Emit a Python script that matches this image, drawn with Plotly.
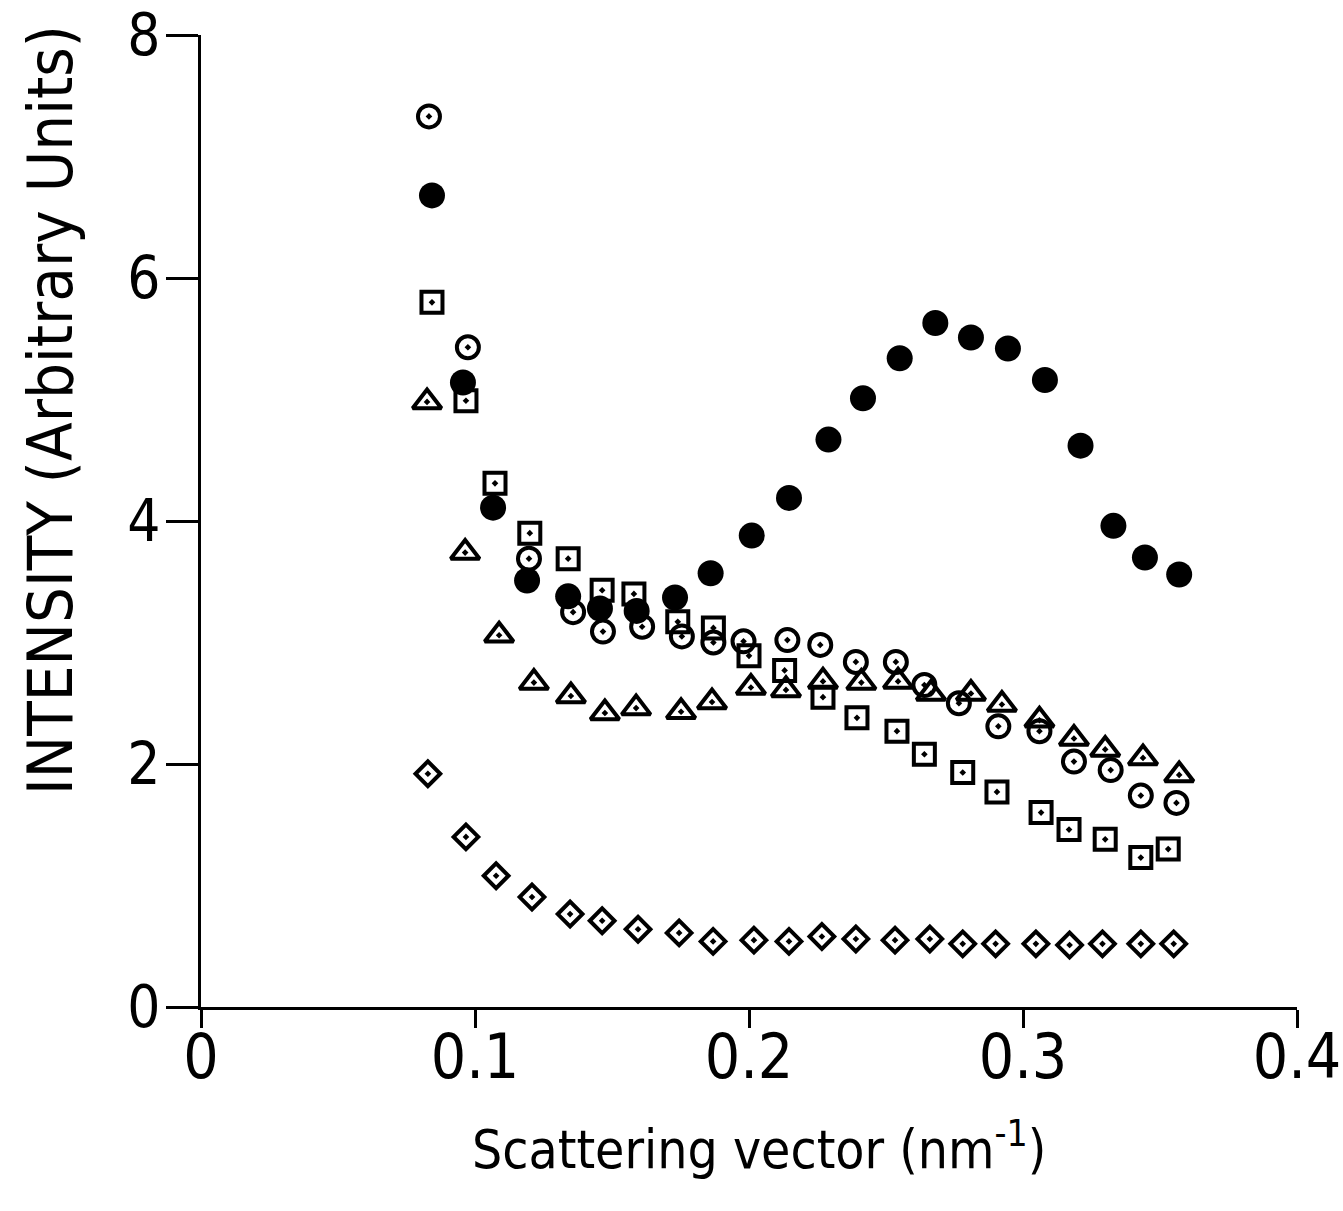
import plotly.graph_objects as go

# Filled circles
x_fill = [0.0843, 0.0956, 0.1066, 0.1190, 0.1340, 0.1456, 0.1590, 0.1730, 0.1860, 0.2010, 0.2146,
          0.2290, 0.2416, 0.2550, 0.2680, 0.2810, 0.2945, 0.3080, 0.3210, 0.3330, 0.3445, 0.3570]
y_fill = [6.68, 5.14, 4.11, 3.51, 3.38, 3.28, 3.26, 3.37, 3.57, 3.88, 4.19,
          4.67, 5.01, 5.34, 5.63, 5.51, 5.42, 5.16, 4.62, 3.96, 3.70, 3.56]

# Open circles with centre dot
x_circ = [0.0832, 0.0974, 0.1197, 0.1358, 0.1467, 0.1610, 0.1755, 0.1870, 0.1980, 0.2140, 0.2260,
          0.2390, 0.2536, 0.2640, 0.2766, 0.2910, 0.3060, 0.3186, 0.3320, 0.3430, 0.3560]
y_circ = [7.33, 5.43, 3.69, 3.25, 3.09, 3.13, 3.05, 3.00, 3.01, 3.02, 2.98,
          2.84, 2.84, 2.65, 2.50, 2.31, 2.27, 2.02, 1.95, 1.74, 1.68]

# Triangles with centre dot
x_tri = [0.0825, 0.0964, 0.1088, 0.1215, 0.1350, 0.1474, 0.1588, 0.1752, 0.1865, 0.2007, 0.2135,
         0.2270, 0.2410, 0.2544, 0.2664, 0.2810, 0.2923, 0.3060, 0.3186, 0.3300, 0.3438, 0.3570]
y_tri = [4.98, 3.74, 3.06, 2.67, 2.56, 2.42, 2.46, 2.43, 2.51, 2.63, 2.61,
         2.68, 2.67, 2.68, 2.58, 2.58, 2.49, 2.36, 2.21, 2.12, 2.05, 1.91]

# Squares with centre dot
x_sq = [0.0843, 0.0967, 0.1073, 0.1200, 0.1340, 0.1464, 0.1580, 0.1740, 0.1870, 0.2000, 0.2130,
        0.2270, 0.2394, 0.2540, 0.2640, 0.2780, 0.2905, 0.3066, 0.3168, 0.3300, 0.3430, 0.3530]
y_sq = [5.80, 4.99, 4.31, 3.90, 3.69, 3.43, 3.40, 3.17, 3.12, 2.89, 2.77,
        2.55, 2.38, 2.27, 2.08, 1.93, 1.77, 1.60, 1.46, 1.38, 1.23, 1.30]

# Diamonds with centre dot
x_dia = [0.0828, 0.0967, 0.1077, 0.1208, 0.1347, 0.1464, 0.1595, 0.1745, 0.1869, 0.2018, 0.2146,
         0.2266, 0.2390, 0.2533, 0.2660, 0.2780, 0.2900, 0.3047, 0.3170, 0.3290, 0.3430, 0.3550]
y_dia = [1.92, 1.40, 1.08, 0.905, 0.765, 0.71, 0.64, 0.61, 0.54, 0.55, 0.54,
         0.58, 0.56, 0.55, 0.56, 0.52, 0.52, 0.52, 0.51, 0.52, 0.52, 0.52]

x_ticks = [0, 0.1, 0.2, 0.3, 0.4]
x_ticklabels = ["0", "0.1", "0.2", "0.3", "0.4"]
y_ticks = [0, 2, 4, 6, 8]
y_ticklabels = ["0", "2", "4", "6", "8"]

FONT = "DejaVu Sans Condensed, Liberation Sans Narrow, Liberation Sans, sans-serif"

fig = go.Figure()

def add(xs, ys, symbol, size, lw=4):
    fig.add_trace(go.Scatter(
        x=xs, y=ys, mode="markers",
        marker=dict(symbol=symbol, size=size, color="black",
                    line=dict(color="black", width=lw)),
        showlegend=False, hoverinfo="skip"))

add(x_dia, y_dia, "diamond-open-dot", 19)
add(x_sq, y_sq, "square-open-dot", 21)
add(x_tri, y_tri, "triangle-up-open-dot", 25)
add(x_circ, y_circ, "circle-open-dot", 22)
add(x_fill, y_fill, "circle", 26, lw=0)

fig.update_layout(
    width=1343, height=1211,
    margin=dict(l=201, r=46, t=35, b=204),
    plot_bgcolor="white", paper_bgcolor="white",
    font=dict(family=FONT, color="black"),
    showlegend=False,
    xaxis=dict(range=[0, 0.4], tickvals=x_ticks, ticktext=x_ticklabels, automargin=False,
               showgrid=False, zeroline=False, showline=True, linecolor="black", linewidth=3,
               ticks="outside", ticklen=18, tickwidth=3, tickcolor="black",
               ticklabeloverflow="allow", ticklabelstandoff=-24,
               tickfont=dict(size=62, family=FONT)),
    yaxis=dict(range=[0, 8], tickvals=y_ticks, ticktext=y_ticklabels, automargin=False,
               showgrid=False, zeroline=False, showline=True, linecolor="black", linewidth=3,
               ticks="outside", ticklen=32, tickwidth=3, tickcolor="black",
               ticklabeloverflow="allow", ticklabelstandoff=-6,
               tickfont=dict(size=58, family=FONT)),
    annotations=[
        dict(text="Scattering vector (nm<sup>-1</sup>)", xref="paper", yref="paper",
             x=0.509, y=-0.143, xanchor="center", yanchor="middle", showarrow=False,
             font=dict(size=53, family=FONT)),
        dict(text="INTENSITY (Arbitrary Units)", xref="paper", yref="paper",
             x=-0.138, y=0.614, xanchor="center", yanchor="middle", showarrow=False,
             textangle=-90, font=dict(size=63, family=FONT)),
    ],
)

fig.write_html("out.html", config={"displayModeBar": False},
               post_script="document.body.style.margin='0';document.body.style.overflow='hidden';")
